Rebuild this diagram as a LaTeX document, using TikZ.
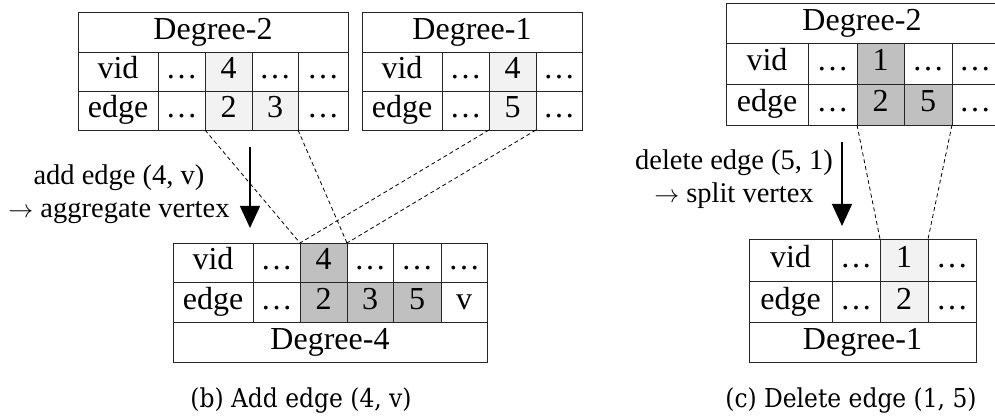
\documentclass[tikz,border=0pt]{standalone}
\usepackage{fontspec}
\setmainfont{Liberation Serif}
\newfontfamily\capfont{DejaVu Serif Condensed}
\usetikzlibrary{arrows.meta}

\definecolor{lightcell}{HTML}{F2F2F2}
\definecolor{darkcell}{HTML}{C0C0C0}
\definecolor{rule}{HTML}{262626}

% one table cell: name, x0, y0, x1, y1, fill, text
\newcommand\tcell[7]{%
  \node[cellst, fill=#6,
        minimum width={#4pt-#2pt}, minimum height={#5pt-#3pt}]
    (#1) at ({(#2+#4)/2},{(#3+#5)/2}) {#7};}

\begin{document}
\begin{tikzpicture}[x=1pt, y=-1pt,
  cellst/.style={draw=rule, line width=0.9pt, inner sep=0pt, outer sep=0pt,
    font=\fontsize{32}{32}\selectfont, text height=22pt, text depth=7pt},
  link/.style={dashed, dash pattern=on 4pt off 3pt, line width=0.8pt, draw=black},
  flow/.style={line width=1.3pt, -{Triangle[width=20pt,length=22pt]}},
  note/.style={font=\fontsize{28.5}{28.5}\selectfont, anchor=base, inner sep=0pt},
  caption/.style={font=\capfont\fontsize{26}{26}\selectfont, anchor=base, inner sep=0pt}]
\useasboundingbox (0,0) rectangle (995,419);
\begin{scope}
\clip (0,0) rectangle (995,419);

% ---- Degree-2 table (add) ----
\tcell{t1h}{78}{12}{348}{52}{white}{Degree-2}
\tcell{t1vl}{78}{52}{158}{91}{white}{vid}
\tcell{t1va}{158}{52}{205}{91}{white}{…}
\tcell{t1v4}{205}{52}{252}{91}{lightcell}{4}
\tcell{t1vb}{252}{52}{298}{91}{white}{…}
\tcell{t1vc}{298}{52}{348}{91}{white}{…}
\tcell{t1el}{78}{91}{158}{130}{white}{edge}
\tcell{t1ea}{158}{91}{205}{130}{white}{…}
\tcell{t1e2}{205}{91}{252}{130}{lightcell}{2}
\tcell{t1e3}{252}{91}{298}{130}{lightcell}{3}
\tcell{t1eb}{298}{91}{348}{130}{white}{…}

% ---- Degree-1 table (add) ----
\tcell{t2h}{362}{12}{582}{52}{white}{Degree-1}
\tcell{t2vl}{362}{52}{442}{91}{white}{vid}
\tcell{t2va}{442}{52}{489}{91}{white}{…}
\tcell{t2v4}{489}{52}{536}{91}{lightcell}{4}
\tcell{t2vb}{536}{52}{582}{91}{white}{…}
\tcell{t2el}{362}{91}{442}{130}{white}{edge}
\tcell{t2ea}{442}{91}{489}{130}{white}{…}
\tcell{t2e5}{489}{91}{536}{130}{lightcell}{5}
\tcell{t2eb}{536}{91}{582}{130}{white}{…}

% ---- Degree-4 table (result) ----
\tcell{t3vl}{173}{243}{253}{282}{white}{vid}
\tcell{t3va}{253}{243}{300}{282}{white}{…}
\tcell{t3v4}{300}{243}{347}{282}{darkcell}{4}
\tcell{t3vb}{347}{243}{393}{282}{white}{…}
\tcell{t3vc}{393}{243}{441}{282}{white}{…}
\tcell{t3vd}{441}{243}{487}{282}{white}{…}
\tcell{t3el}{173}{282}{253}{322}{white}{edge}
\tcell{t3ea}{253}{282}{300}{322}{white}{…}
\tcell{t3e2}{300}{282}{347}{322}{darkcell}{2}
\tcell{t3e3}{347}{282}{393}{322}{darkcell}{3}
\tcell{t3e5}{393}{282}{441}{322}{darkcell}{5}
\tcell{t3ev}{441}{282}{487}{322}{white}{v}
\tcell{t3f}{173}{322}{487}{362}{white}{Degree-4}

% ---- Degree-2 table (delete) ----
\tcell{t4h}{726}{3}{998}{43}{white}{Degree-2}
\tcell{t4vl}{726}{43}{808}{84}{white}{vid}
\tcell{t4va}{808}{43}{857}{84}{white}{…}
\tcell{t4v1}{857}{43}{904}{84}{darkcell}{1}
\tcell{t4vb}{904}{43}{952}{84}{white}{…}
\tcell{t4vc}{952}{43}{998}{84}{white}{…}
\tcell{t4el}{726}{84}{808}{125}{white}{edge}
\tcell{t4ea}{808}{84}{857}{125}{white}{…}
\tcell{t4e2}{857}{84}{904}{125}{darkcell}{2}
\tcell{t4e5}{904}{84}{952}{125}{darkcell}{5}
\tcell{t4eb}{952}{84}{998}{125}{white}{…}

% ---- Degree-1 table (result) ----
\tcell{t5vl}{749}{239}{832}{281}{white}{vid}
\tcell{t5va}{832}{239}{880}{281}{white}{…}
\tcell{t5v1}{880}{239}{928}{281}{lightcell}{1}
\tcell{t5vb}{928}{239}{976}{281}{white}{…}
\tcell{t5el}{749}{281}{832}{322}{white}{edge}
\tcell{t5ea}{832}{281}{880}{322}{white}{…}
\tcell{t5e2}{880}{281}{928}{322}{lightcell}{2}
\tcell{t5eb}{928}{281}{976}{322}{white}{…}
\tcell{t5f}{749}{322}{976}{362}{white}{Degree-1}

% ---- dashed correspondences ----
\draw[link] (t1e2.south west) -- (t3v4.north west);
\draw[link] (t1e3.south east) -- (t3v4.north east);
\draw[link] (t2e5.south west) -- (t3v4.north west);
\draw[link] (t2e5.south east) -- (t3v4.north east);
\draw[link] (t4e2.south west) -- (t5v1.north west);
\draw[link] (t4e5.south east) -- (t5v1.north east);

% ---- operation arrows ----
\coordinate (addtop) at (250,147);
\coordinate (addbot) at (250,228);
\draw[flow] (addtop) -- (addbot);
\node[note] (addl1) at (119,185) {add edge (4, v)};
\node[note] (addl2) at (119,218) {$\rightarrow$ aggregate vertex};

\coordinate (deltop) at (842,142);
\coordinate (delbot) at (842,226);
\draw[flow] (deltop) -- (delbot);
\node[note] (dell1) at (734,170) {delete edge (5, 1)};
\node[note] (dell2) at (734,203) {$\rightarrow$ split vertex};

% ---- captions ----
\node[caption] (capb) at (301,407) {(b) Add edge (4, v)};
\node[caption] (capc) at (851,407) {(c) Delete edge (1, 5)};
\end{scope}
\end{tikzpicture}
\end{document}
